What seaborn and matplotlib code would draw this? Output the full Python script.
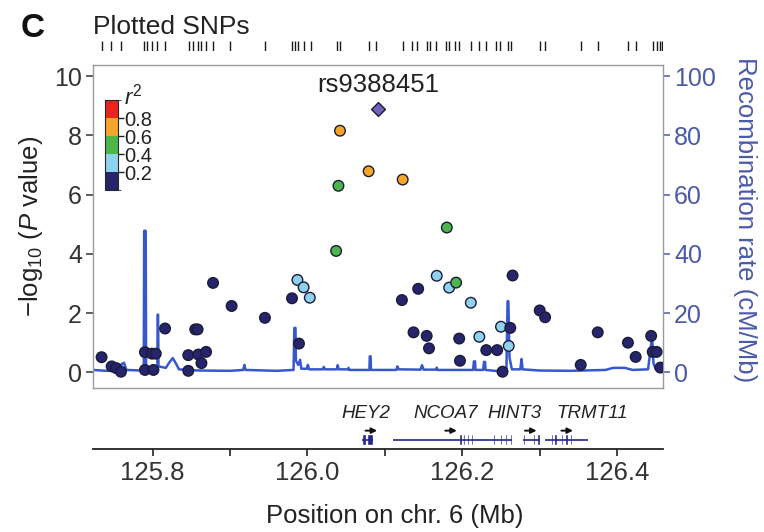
import matplotlib
matplotlib.use("Agg")
import matplotlib.pyplot as plt
import numpy as np
import pandas as pd
import seaborn as sns
from matplotlib.colors import ListedColormap, BoundaryNorm
from matplotlib.cm import ScalarMappable

sns.set_style("white")
plt.rcParams['font.family'] = ['Liberation Sans', 'DejaVu Sans']
plt.rcParams['mathtext.fontset'] = 'custom'
plt.rcParams['mathtext.rm'] = 'Liberation Sans'
plt.rcParams['mathtext.it'] = 'Liberation Sans:italic'

# ---------------- data ----------------
snp_pos = [125.734, 125.747, 125.753, 125.759, 125.790, 125.790, 125.799, 125.801, 125.804, 125.816,
           125.846, 125.846, 125.855, 125.858, 125.859, 125.863, 125.869, 125.878, 125.902, 125.945,
           125.980, 125.987, 125.995, 126.003, 125.989, 126.037, 126.040, 126.042, 126.079,
           126.123, 126.180, 126.167, 126.183, 126.192, 126.143, 126.122, 126.211, 126.137, 126.154,
           126.157, 126.196, 126.197, 126.222, 126.231, 126.245, 126.250, 126.260, 126.262, 126.265,
           126.252, 126.300, 126.307, 126.353, 126.375, 126.414, 126.424, 126.444, 126.446, 126.451,
           126.456]
snp_logp = [0.51, 0.20, 0.14, 0.02, 0.68, 0.08, 0.63, 0.08, 0.63, 1.48,
            0.58, 0.05, 1.45, 1.45, 0.60, 0.31, 0.69, 3.02, 2.24, 1.84,
            2.50, 3.12, 2.87, 2.52, 0.97, 4.10, 6.30, 8.16, 6.79,
            6.51, 4.89, 3.26, 2.86, 3.03, 2.82, 2.44, 2.35, 1.35, 1.23,
            0.81, 1.14, 0.39, 1.20, 0.75, 0.75, 1.54, 0.89, 1.50, 3.27,
            0.02, 2.09, 1.86, 0.25, 1.35, 1.00, 0.52, 1.23, 0.69, 0.69,
            0.16]
snp_r2 = [0.1, 0.1, 0.1, 0.1, 0.1, 0.1, 0.1, 0.1, 0.1, 0.1,
          0.1, 0.1, 0.1, 0.1, 0.1, 0.1, 0.1, 0.1, 0.1, 0.1,
          0.1, 0.3, 0.3, 0.3, 0.1, 0.5, 0.5, 0.7, 0.7,
          0.7, 0.5, 0.3, 0.3, 0.5, 0.1, 0.1, 0.3, 0.1, 0.1,
          0.1, 0.1, 0.1, 0.3, 0.1, 0.1, 0.3, 0.3, 0.1, 0.1,
          0.1, 0.1, 0.1, 0.1, 0.1, 0.1, 0.1, 0.1, 0.1, 0.1,
          0.1]
lead_name = "rs9388451"
lead_pos = [126.091]
lead_logp = [8.91]

rug_pos = [125.734, 125.746, 125.759, 125.789, 125.793, 125.799, 125.805, 125.816, 125.847, 125.852,
           125.858, 125.862, 125.869, 125.878, 125.900, 125.945, 125.980, 125.984, 125.988, 125.995,
           126.005, 126.038, 126.042, 126.079, 126.089, 126.123, 126.135, 126.141, 126.154, 126.158,
           126.166, 126.179, 126.183, 126.191, 126.196, 126.211, 126.222, 126.231, 126.244, 126.249,
           126.259, 126.263, 126.300, 126.307, 126.353, 126.375, 126.414, 126.424, 126.446, 126.451,
           126.455, 126.458]

recomb_pos = [125.7225, 125.740, 125.757, 125.760, 125.763, 125.766, 125.786, 125.7885, 125.789, 125.791,
              125.7915, 125.806, 125.8065, 125.807, 125.8075, 125.817, 125.822, 125.826, 125.830, 125.834,
              125.860, 125.900, 125.917, 125.9185, 125.920, 125.960, 125.982, 125.983, 125.9845, 125.985,
              125.988, 125.9905, 125.992, 125.999, 126.0005, 126.002, 126.020, 126.021, 126.0225, 126.038,
              126.039, 126.0405, 126.052, 126.053, 126.054, 126.080, 126.0805, 126.0815, 126.082, 126.115,
              126.116, 126.118, 126.146, 126.148, 126.150, 126.166, 126.167, 126.168, 126.214, 126.215,
              126.2165, 126.217, 126.227, 126.228, 126.2295, 126.230, 126.250, 126.257, 126.2585, 126.2595,
              126.261, 126.264, 126.275, 126.2765, 126.278, 126.300, 126.340, 126.385, 126.395, 126.410,
              126.420, 126.440, 126.4445, 126.4455, 126.447, 126.450, 126.459]
recomb_rate = [0.8, 0.5, 0.6, 2.8, 3.2, 0.8, 0.6, 1.0, 47.8, 47.8,
               1.5, 1.5, 19.5, 19.5, 2.0, 1.5, 3.5, 4.8, 3.0, 1.0,
               0.6, 0.5, 0.8, 2.5, 0.8, 0.5, 0.8, 15.0, 15.0, 4.0,
               2.5, 4.2, 1.2, 1.2, 2.5, 1.0, 1.0, 1.8, 1.0, 1.0,
               2.4, 1.0, 1.0, 1.5, 0.8, 0.8, 5.4, 5.4, 0.8, 0.8,
               2.0, 1.0, 0.9, 2.4, 0.9, 0.9, 1.6, 0.8, 0.8, 3.7,
               3.7, 0.8, 0.8, 3.5, 3.5, 0.8, 0.3, 0.8, 24.0, 24.0,
               5.0, 1.0, 1.0, 4.5, 1.0, 0.6, 0.5, 0.8, 1.5, 1.5,
               0.8, 1.0, 10.5, 10.5, 3.0, 1.0, 1.0]

gene_names = ["HEY2", "NCOA7", "HINT3", "TRMT11"]
gene_start = [126.070, 126.111, 126.279, 126.307]
gene_end = [126.085, 126.264, 126.300, 126.363]
gene_label_x = [126.075, 126.178, 126.267, 126.368]
gene_arrow_start = [126.075, 126.178, 126.281, 126.328]
gene_arrow_end = [126.090, 126.193, 126.296, 126.343]
gene_exons = [
    [(126.0705, 126.0750), (126.0770, 126.0845)],
    [(126.1115, 126.1130), (126.1385, 126.1400), (126.1775, 126.1790), (126.1960, 126.1990),
     (126.2005, 126.2040), (126.2055, 126.2090), (126.2110, 126.2135), (126.2160, 126.2180),
     (126.2400, 126.2420), (126.2490, 126.2510), (126.2550, 126.2580), (126.2620, 126.2640)],
    [(126.2790, 126.2805), (126.2870, 126.2890), (126.2910, 126.2940), (126.2965, 126.3000)],
    [(126.3070, 126.3085), (126.3145, 126.3170), (126.3190, 126.3220), (126.3270, 126.3295),
     (126.3325, 126.3360), (126.3395, 126.3420), (126.3615, 126.3630)],
]

r2_bins = [0.0, 0.2, 0.4, 0.6, 0.8, 1.0]
r2_labels = ["0.0-0.2", "0.2-0.4", "0.4-0.6", "0.6-0.8", "0.8-1.0"]
r2_colors = ["#26246a", "#8ed2ee", "#4cb64a", "#f5a52a", "#e8241c"]
lead_color = "#7462b8"
recomb_color = "#3658cc"
axis_blue = "#4b5aa8"

XMIN, XMAX = 125.7229, 126.4593
YMIN, YMAX = -0.53, 10.38

# ---------------- figure ----------------
W, H = 764, 532
fig = plt.figure(figsize=(W / 100, H / 100), dpi=100)


def rect(l, t, r, b):
    return [l / W, 1 - b / H, (r - l) / W, (b - t) / H]


ax = fig.add_axes(rect(93, 65, 663, 388))
ax2 = ax.twinx()

# recombination rate
rdf = pd.DataFrame({"pos": recomb_pos, "rate": recomb_rate})
sns.lineplot(data=rdf, x="pos", y="rate", sort=False, estimator=None,
             color=recomb_color, lw=1.8, ax=ax2)
ax2.set_ylim(YMIN * 10, YMAX * 10)
ax2.set_yticks([0, 20, 40, 60, 80, 100])
ax2.tick_params(axis='y', colors=axis_blue, labelsize=18, length=5, width=1.1, pad=3)
for s in ax2.spines.values():
    s.set_visible(False)
ax2.set_ylabel("Recombination rate (cM/Mb)", fontsize=18.5, color=axis_blue,
               rotation=270, va='center', ha='center')
ax2.yaxis.set_label_coords((745 - 93) / 570, 0.52)

ax.set_zorder(ax2.get_zorder() + 1)
ax.patch.set_visible(False)

# SNP points
df = pd.DataFrame({"pos": snp_pos, "logp": snp_logp, "r2": snp_r2})
df["cls"] = pd.cut(df["r2"], bins=r2_bins, labels=r2_labels, include_lowest=True).astype(str)
pal = dict(zip(r2_labels, r2_colors))
sns.scatterplot(data=df, x="pos", y="logp", hue="cls", palette=pal, hue_order=r2_labels,
                s=58, edgecolor="#1b1b3a", linewidth=1.0, legend=False, ax=ax, zorder=3)
ldf = pd.DataFrame({"pos": lead_pos, "logp": lead_logp})
sns.scatterplot(data=ldf, x="pos", y="logp", marker="D", color=lead_color, s=50,
                edgecolor="#1b1b3a", linewidth=1.0, legend=False, ax=ax, zorder=4)
ax.text(lead_pos[0], 9.47, lead_name, ha='center', va='baseline', fontsize=18.5, color='#222222')

ax.set_xlim(XMIN, XMAX)
ax.set_ylim(YMIN, YMAX)
ax2.set_xlim(XMIN, XMAX)
ax.set_xticks([])
ax.set_yticks([0, 2, 4, 6, 8, 10])
ax.tick_params(axis='y', colors='#333333', labelsize=18, length=5, width=1.1, pad=3, left=True)
for s in ax.spines.values():
    s.set_visible(True)
    s.set_color('#9a9a9a')
    s.set_linewidth(1.0)
ax.set_xlabel("")
ax.set_ylabel(r"$-$log$_{10}$ ($P$ value)", fontsize=18.5, color='#222222', va='center', ha='center')
ax.yaxis.set_label_coords((31 - 93) / 570, 0.5)

# r2 legend
cax = fig.add_axes(rect(105, 100, 118, 190))
cmap = ListedColormap(r2_colors)
norm = BoundaryNorm(r2_bins, cmap.N)
cb = fig.colorbar(ScalarMappable(norm=norm, cmap=cmap), cax=cax, ticks=[0.2, 0.4, 0.6, 0.8])
cb.ax.set_yticklabels(["0.2", "0.4", "0.6", "0.8"])
cb.ax.tick_params(labelsize=14.5, length=4, width=1, pad=0.5, colors='#222222')
cb.outline.set_linewidth(0.8)
fig.text(124 / W, 1 - 104 / H, r"$r^2$", fontsize=16, ha='left', va='baseline', color='#222222')

# plotted SNPs rug
ax_r = fig.add_axes(rect(93, 41, 663, 51))
sns.rugplot(x=rug_pos, height=1.0, color='#1a1a1a', lw=2.0, ax=ax_r, expand_margins=False)
ax_r.set_xlim(XMIN, XMAX)
ax_r.set_ylim(0, 1)
ax_r.axis('off')
fig.text(93 / W, 1 - 34 / H, "Plotted SNPs", fontsize=19, ha='left', va='baseline', color='#222222')

# panel label
fig.text(21 / W, 1 - 37 / H, "C", fontsize=24, fontweight='bold', ha='left', va='baseline', color='#111111')

# gene track
ax_g = fig.add_axes(rect(93, 395, 663, 449))
ax_g.set_xlim(XMIN, XMAX)
ax_g.set_ylim(0, 1)
gene_col = "#22228a"
for name, gs, ge, lx, a0, a1, exons in zip(gene_names, gene_start, gene_end, gene_label_x,
                                            gene_arrow_start, gene_arrow_end, gene_exons):
    ax_g.hlines(0.17, gs, ge, color=gene_col, lw=1.2)
    ax_g.broken_barh([(e0, e1 - e0) for e0, e1 in exons], (0.07, 0.20), facecolors=gene_col)
    ax_g.annotate("", xy=(a1, 0.34), xytext=(a0, 0.34),
                  arrowprops=dict(arrowstyle='-|>', color='#111111', lw=1.4, mutation_scale=8,
                                  shrinkA=0, shrinkB=0))
    ax_g.text(lx, 0.66, name, ha='center', va='center', fontsize=13.5, style='italic', color='#222222')

for side in ['top', 'left', 'right']:
    ax_g.spines[side].set_visible(False)
ax_g.spines['bottom'].set_color('#222222')
ax_g.spines['bottom'].set_linewidth(1.3)
ax_g.set_yticks([])
ax_g.set_xticks([125.8, 126.0, 126.2, 126.4])
ax_g.set_xticklabels(["125.8", "126.0", "126.2", "126.4"])
ax_g.set_xticks([125.9, 126.1, 126.3], minor=True)
ax_g.tick_params(axis='x', which='both', direction='out', length=5, width=1.2, colors='#222222',
                 labelsize=18.5, pad=4, bottom=True)
ax_g.tick_params(axis='x', labelcolor='#333333')
ax_g.set_xlabel("Position on chr. 6 (Mb)", fontsize=18.5, color='#222222')
ax_g.xaxis.set_label_coords(0.53, -(516 - 449) / 54)
ax_g.xaxis.label.set_va('center')
ax_g.patch.set_visible(False)

fig.savefig("out.png", dpi=100, facecolor='white')
